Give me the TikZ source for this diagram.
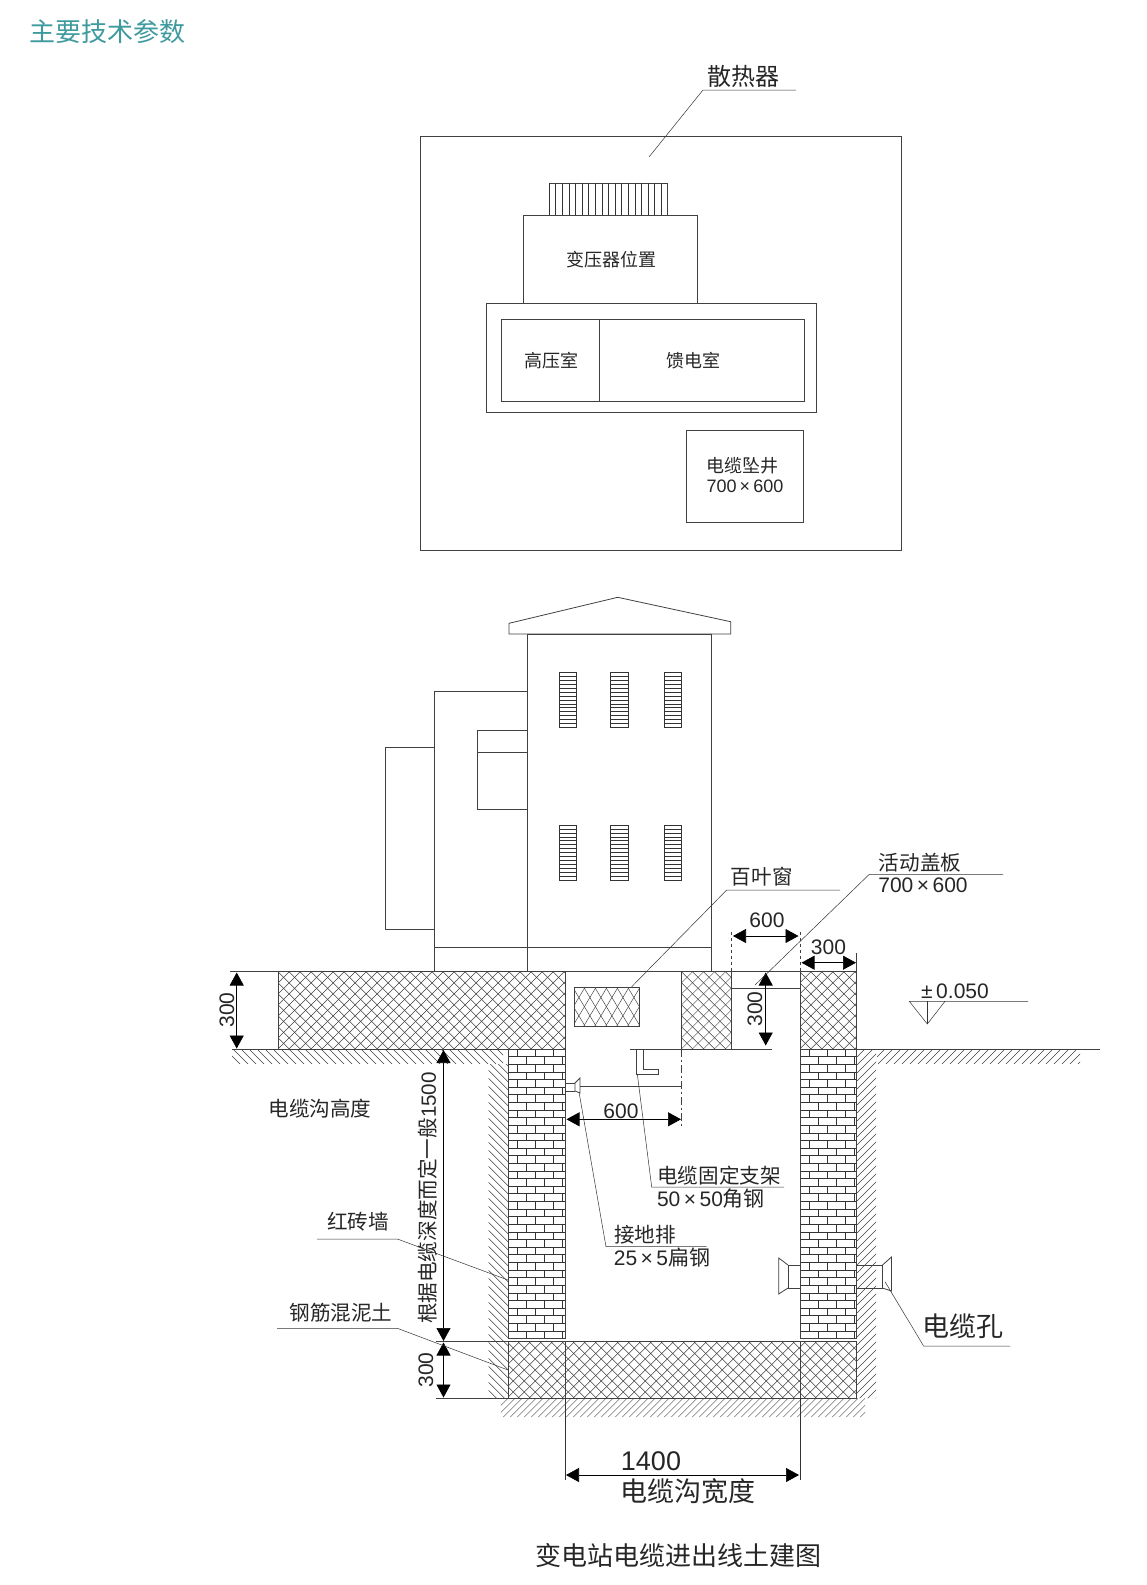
\documentclass[tikz,border=0pt]{standalone}
\usepackage{fontspec}
\setmainfont{Liberation Sans}
\newfontfamily\cjk{Noto Sans CJK SC}
\usepackage{xcolor}
\definecolor{headteal}{HTML}{3F9A9E}
\usetikzlibrary{arrows.meta}

\tikzset{
  wall/.style={line width=.8pt, draw=black!75},
  thin line/.style={line width=.5pt, draw=black!80},
  dimline/.style={line width=.7pt, draw=black, {Triangle[length=13pt,width=14pt]}-{Triangle[length=13pt,width=14pt]}},
  lbl/.style={inner sep=0pt, text=black!85, font=\cjk\fontsize{20.6}{24}\selectfont},
  lblsmall/.style={inner sep=0pt, text=black!85, font=\cjk\fontsize{18}{21}\selectfont},
  lblbig/.style={inner sep=0pt, text=black!85, font=\cjk\fontsize{27}{30}\selectfont},
  num/.style={inner sep=0pt, text=black!85, font=\fontsize{21}{24}\selectfont},
  numsmall/.style={inner sep=0pt, text=black!85, font=\fontsize{18}{21}\selectfont},
  numbig/.style={inner sep=0pt, text=black!85, font=\fontsize{27}{30}\selectfont},
}

% x1 y1 x2 y2 dir step slope
\newcommand{\hatchbox}[7]{%
  \begin{scope}
    \clip (#1,#2) rectangle (#3,#4);
    \pgfmathsetmacro{\hh}{(#4-#2)*#7}
    \pgfmathsetmacro{\nn}{int((#3-#1+\hh)/#6)+1}
    \foreach \k in {0,...,\nn} {
      \pgfmathsetmacro{\xa}{#1-\hh+\k*#6}
      \draw[line width=.45pt, black!75] ({\xa+(1-#5)/2*\hh},#2) -- ({\xa+(1+#5)/2*\hh},#4);
    }
  \end{scope}}
% x1 y1 x2 y2
\newcommand{\concrete}[4]{%
  \hatchbox{#1}{#2}{#3}{#4}{1}{11}{1}
  \hatchbox{#1}{#2}{#3}{#4}{-1}{11}{1}
  \draw[wall] (#1,#2) rectangle (#3,#4);}
% x1 y1 rows
\newcommand{\brickwall}[3]{%
  \foreach \r in {0,...,#3} {
    \pgfmathsetmacro{\ya}{#2+\r*7.62}
    \pgfmathsetmacro{\yb}{\ya+7.62}
    \draw[line width=.6pt, black!80] (#1,\ya) -- ++(56.7,0);
    \pgfmathsetmacro{\off}{mod(\r,2)==0 ? 9 : 0}
    \foreach \c in {0,1,2,3} {
      \pgfmathsetmacro{\xb}{#1+\off+\c*18}
      \ifdim\xb pt<\dimexpr#1pt+56pt\relax
        \ifdim\xb pt>\dimexpr#1pt+1pt\relax
          \draw[line width=.6pt, black!80] (\xb,\ya) -- (\xb,\yb);
        \fi
      \fi
    }
  }
  \draw[wall] (#1,#2) rectangle ++(56.7,{(#3+1)*7.62});}
% x1 y1
\newcommand{\louvre}[2]{%
  \draw[line width=.6pt, black!80] (#1,#2) rectangle ++(17.3,55);
  \foreach \s in {1,...,13}
    \draw[line width=.5pt, black!80] (#1,{#2+\s*3.93}) -- ++(17.3,0);}

\begin{document}
\begin{tikzpicture}[x=1pt,y=-1pt]
  \useasboundingbox (0,0) rectangle (1146,1585);

  \node (heading) at (107.5,31.5) [inner sep=0pt, text=headteal, font=\cjk\fontsize{26}{30}\selectfont] {主要技术参数};

  % plan
  \draw[wall] (420,136.5) rectangle (901,550);
  \node (radiator) at (743,76) [inner sep=0pt, text=black!85, font=\cjk\fontsize{24}{28}\selectfont] {散热器};
  \coordinate (radA) at (649,157);
  \coordinate (radB) at (703,90);
  \coordinate (radC) at (796,90);
  \draw[thin line] (radA) -- (radB) -- (radC);

  \draw[wall] (549,183) rectangle (667.5,215.5);
  \foreach \f in {0,...,17}
    \draw[line width=.5pt, black!80] ({549+\f*6.6},183) -- ++(0,32.5);
  \draw[wall] (523,215.5) rectangle (697,303.4);
  \node (trafo) at (611,260) [lblsmall] {变压器位置};
  \draw[wall] (486.4,303.4) rectangle (816,412.6);
  \draw[wall] (501.6,319.6) rectangle (804,401.5);
  \draw[wall] (599.7,319.6) -- (599.7,401.5);
  \node (hvroom) at (551,361) [lblsmall] {高压室};
  \node (feedroom) at (693,361) [lblsmall] {馈电室};
  \draw[wall] (686.7,430) rectangle (803,522);
  \node (well) at (742,466) [lblsmall] {电缆坠井};
  \node (wellsize) at (745,486.5) [numsmall] {700\,×\,600};

  % building
  \draw[wall] (509,634) -- (509,623.3) -- (617.7,597.3) -- (730.7,621.7) -- (730.7,634) -- cycle;
  \draw[wall] (527.3,634) rectangle (711.5,971.7);
  \draw[wall] (434.5,971.7) -- (434.5,691) -- (527.3,691);
  \draw[wall] (385.5,747) rectangle (434.5,929);
  \draw[wall] (477.7,730.3) rectangle (527.3,809.7);
  \draw[wall] (477.7,752) -- (527.3,752);
  \draw[wall] (434.5,947.3) -- (711.5,947.3);
  \foreach \lx in {559.3,610.7,664.3} {
    \louvre{\lx}{672.3}
    \louvre{\lx}{825}
  }

  % ground and walls
  \hatchbox{232}{1049}{503}{1064}{1}{8}{1}
  \hatchbox{488.5}{1064}{508.5}{1398.3}{1}{8}{1}
  \hatchbox{857}{1049}{876}{1398.3}{-1}{8}{1}
  \hatchbox{877}{1049}{1080}{1064}{-1}{8}{1}
  \hatchbox{501}{1398.3}{865}{1417}{-1}{7}{1}

  \concrete{278.3}{971.7}{565}{1049}
  \concrete{681.7}{971.7}{731.7}{1049}
  \concrete{800}{971.7}{856.7}{1049}
  \concrete{508.5}{1341.7}{856.7}{1398.3}
  \brickwall{508.5}{1049}{37}
  \brickwall{800}{1049}{37}
  \draw[wall] (565,1341.7) -- (565,1398.3);
  \draw[wall] (800,1341.7) -- (800,1398.3);

  \draw[wall] (230,971.7) -- (800,971.7);
  \draw[wall] (731.7,988.3) -- (800,988.3);
  \draw[wall] (232,1049) -- (278.3,1049);
  \draw[wall] (630,1049) -- (771.7,1049);
  \draw[wall] (856.7,1049) -- (1100,1049);
  \draw[wall] (436,1341.7) -- (508.5,1341.7);
  \draw[wall] (436,1398.3) -- (508.5,1398.3);

  % vent
  \hatchbox{574}{987.3}{639.3}{1026}{1}{11}{.6}
  \hatchbox{574}{987.3}{639.3}{1026}{-1}{11}{.6}
  \draw[wall] (574,987.3) rectangle (639.3,1026);

  % fittings
  \draw[wall] (636.7,1049) -- (636.7,1074) -- (658,1074) -- (658,1069) -- (643,1069) -- (643,1049);
  \draw[wall] (565,1083) -- (575,1083) (565,1091) -- (575,1091);
  \draw[wall] (575,1083) -- (580,1078) -- (580,1093) -- (575,1091) -- cycle;
  \draw[wall] (580,1086.7) -- (681.7,1086.7);
  \draw[wall, dash pattern=on 8pt off 3pt on 2pt off 3pt] (681.7,1049) -- (681.7,1126.7);

  % cable holes
  \draw[wall] (800,1265) -- (788,1265) -- (788,1288) -- (800,1288);
  \draw[wall] (788,1265) -- (778.7,1258) -- (778.7,1294) -- (788,1288);
  \draw[wall] (856.7,1265) -- (882.5,1265) -- (882.5,1288) -- (856.7,1288);
  \draw[wall] (882.5,1265) -- (891.5,1257) -- (891.5,1291) -- (882.5,1288);

  % extension lines
  \draw[wall, dashed] (731.7,931.7) -- (731.7,971.7);
  \draw[wall, dashed] (800,931.7) -- (800,971.7);
  \draw[wall] (856.7,953) -- (856.7,971.7);
  \draw[thin line] (565,1398.3) -- (565,1480);
  \draw[thin line] (800,1398.3) -- (800,1480);

  % dimensions
  \coordinate (slabT) at (236.7,972.5);
  \coordinate (slabB) at (236.7,1048.5);
  \draw[dimline] (slabT) -- (slabB);
  \node (slabnum) at (227,1010) [num, rotate=90] {300};
  \coordinate (depT) at (443.5,1050);
  \coordinate (depB) at (443.5,1341);
  \draw[dimline] (depT) -- (depB);
  \node (deptext) at (428,1198) [lbl, rotate=90] {根据电缆深度而定一般{\fontspec{Liberation Sans}1500}};
  \coordinate (baseT) at (443.5,1342.5);
  \coordinate (baseB) at (443.5,1397.5);
  \draw[dimline] (baseT) -- (baseB);
  \node (basenum) at (426,1370) [num, rotate=90] {300};
  \coordinate (pitL) at (566.5,1119.3);
  \coordinate (pitR) at (681,1119.3);
  \draw[dimline] (pitL) -- (pitR);
  \node (pitnum) at (621,1111) [num] {600};
  \coordinate (coverL) at (733,936);
  \coordinate (coverR) at (798.5,936);
  \draw[dimline] (coverL) -- (coverR);
  \node (covernum) at (767,920) [num] {600};
  \coordinate (pierL) at (801.5,962.7);
  \coordinate (pierR) at (856,962.7);
  \draw[dimline] (pierL) -- (pierR);
  \node (piernum) at (828.5,947) [num] {300};
  \coordinate (coverT) at (765.7,972.5);
  \coordinate (coverB) at (765.7,1045.5);
  \draw[dimline] (coverT) -- (coverB);
  \node (covernumb) at (755,1009) [num, rotate=90] {300};
  \coordinate (widthL) at (566,1475);
  \coordinate (widthR) at (799,1475);
  \draw[dimline] (widthL) -- (widthR);
  \node (widthnum) at (651,1461.5) [numbig] {1400};
  \node (widthtext) at (688,1491) [lblbig] {电缆沟宽度};

  % level mark
  \node (level) at (955,991) [num] {±\,0.050};
  \coordinate (lvlA) at (909.3,1001.3);
  \coordinate (lvlB) at (927.3,1024);
  \coordinate (lvlC) at (945,1001.3);
  \coordinate (lvlD) at (1028,1001.3);
  \draw[thin line] (lvlD) -- (lvlA) -- (lvlB) -- (lvlC);
  \draw[thin line] (927.3,1001.3) -- (lvlB);

  % leaders
  \node (louvretext) at (761.7,877) [lbl] {百叶窗};
  \coordinate (ventA) at (631.7,986.7);
  \coordinate (ventB) at (726.7,890);
  \coordinate (ventC) at (840,890);
  \draw[thin line] (ventA) -- (ventB) -- (ventC);

  \node (covertext) at (920,862.7) [lbl] {活动盖板};
  \node (coversize) at (923,885) [num] {700\,×\,600};
  \coordinate (capA) at (755,985);
  \coordinate (capB) at (869.3,874.3);
  \coordinate (capC) at (1003,874.3);
  \draw[thin line] (capA) -- (capB) -- (capC);

  \node (brackettext) at (719,1176) [lbl] {电缆固定支架};
  \node (bracketsize) at (711,1199) [num] {50\,×\,50{\cjk 角钢}};
  \coordinate (brkA) at (637.3,1074);
  \coordinate (brkB) at (651.7,1187);
  \coordinate (brkC) at (784,1187);
  \draw[thin line] (brkA) -- (brkB) -- (brkC);

  \node (eartext) at (645,1235) [lbl] {接地排};
  \node (earsize) at (662,1257.3) [num] {25\,×\,5{\cjk 扁钢}};
  \coordinate (earA) at (579,1092);
  \coordinate (earB) at (606,1246.7);
  \coordinate (earC) at (706.5,1246.7);
  \draw[thin line] (earA) -- (earB) -- (earC);

  \node (pithigh) at (320,1108.3) [lbl] {电缆沟高度};
  \node (bricktext) at (358,1221.7) [lbl] {红砖墙};
  \coordinate (brA) at (317,1239);
  \coordinate (brB) at (397.4,1239);
  \coordinate (brC) at (508,1280);
  \draw[thin line] (brA) -- (brB) -- (brC);

  \node (concretetext) at (341,1312.7) [lbl] {钢筋混泥土};
  \coordinate (coA) at (277,1328.3);
  \coordinate (coB) at (397.4,1328.3);
  \coordinate (coC) at (508,1370);
  \draw[thin line] (coA) -- (coB) -- (coC);

  \node (holetext) at (963,1326.7) [lblbig] {电缆孔};
  \coordinate (hoA) at (885,1281.7);
  \coordinate (hoB) at (923.6,1346);
  \coordinate (hoC) at (1010,1346);
  \draw[thin line] (hoA) -- (hoB) -- (hoC);

  \node (caption) at (678.6,1556) [inner sep=0pt, text=black!85, font=\cjk\fontsize{26}{30}\selectfont] {变电站电缆进出线土建图};
\end{tikzpicture}
\end{document}
